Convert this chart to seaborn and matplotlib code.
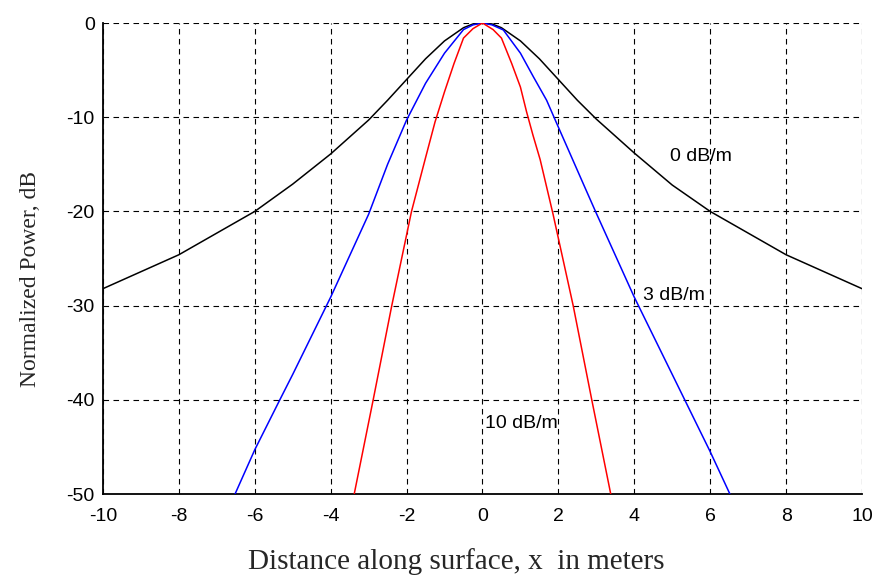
import numpy as np
import pandas as pd
import matplotlib
matplotlib.use("Agg")
import matplotlib.pyplot as plt
import seaborn as sns

# Valeurs (x en mètres, puissance en dB)
x_0db = [-10, -9, -8, -7, -6, -5, -4, -3.5, -3, -2.5, -2, -1.5, -1, -0.5, -0.25, 0,
         0.25, 0.5, 1, 1.5, 2, 2.5, 3, 3.5, 4, 5, 6, 7, 8, 9, 10]
y_0db = [-28.2, -26.4, -24.6, -22.3, -20.0, -17.1, -13.9, -12.1, -10.3, -8.2, -6.0, -3.8, -1.9, -0.5, -0.1, 0,
         -0.1, -0.5, -1.9, -3.8, -6.0, -8.2, -10.2, -12.0, -13.8, -17.2, -20.0, -22.3, -24.6, -26.4, -28.2]

x_3db = [-6.52, -6, -5.34, -5, -4, -3, -2.5, -2, -1.5, -1, -0.5, -0.25, 0,
         0.25, 0.55, 1, 1.34, 1.69, 1.95, 2.3, 2.66, 3, 4, 5, 6, 6.52]
y_3db = [-50, -45.3, -40, -37.3, -29.1, -20.3, -15.0, -10.3, -6.4, -3.2, -0.7, -0.2, 0,
         -0.2, -0.74, -3.2, -5.7, -8.2, -10.6, -13.8, -17.1, -20.2, -29.1, -37.3, -45.5, -50]

x_10db = [-3.38, -2.88, -2.39, -1.87, -1.5, -1.25, -1, -0.75, -0.5, -0.25, 0,
          0.28, 0.5, 0.77, 1, 1.16, 1.33, 1.52, 1.69, 1.86, 2.39, 2.88, 3.38]
y_10db = [-50, -40, -30, -20, -14.3, -10.5, -7.3, -4.3, -1.6, -0.6, 0,
          -0.7, -1.6, -4.3, -6.8, -9.4, -11.9, -14.5, -17.4, -20.3, -30, -40, -50]

series_names = ["0 dB/m", "3 dB/m", "10 dB/m"]
series_colors = ["#000000", "#0000ff", "#ff0000"]

x_ticks = [-10, -8, -6, -4, -2, 0, 2, 4, 6, 8, 10]
y_ticks = [-50, -40, -30, -20, -10, 0]

df = pd.concat([
    pd.DataFrame({"x": x_0db, "y": y_0db, "serie": series_names[0]}),
    pd.DataFrame({"x": x_3db, "y": y_3db, "serie": series_names[1]}),
    pd.DataFrame({"x": x_10db, "y": y_10db, "serie": series_names[2]}),
], ignore_index=True)

sns.set_style("white")
plt.rcParams['font.family'] = ['Liberation Sans', 'DejaVu Sans']
plt.rcParams['axes.unicode_minus'] = False
plt.rcParams['text.color'] = 'black'

fig = plt.figure(figsize=(8.75, 5.78), dpi=100)
ax = fig.add_axes([0.1177, 0.1453, 0.8674, 0.8149])

sns.lineplot(data=df, x="x", y="y", hue="serie", palette=dict(zip(series_names, series_colors)),
             estimator=None, sort=False, legend=False, linewidth=1.1, ax=ax, zorder=3)

ax.set_xlim(-10, 10)
ax.set_ylim(-50, 0)
ax.set_xticks(x_ticks)
ax.set_yticks(y_ticks)
ax.grid(True, color="black", linestyle=(0, (5, 4)), linewidth=0.8)

for side in ["top", "right"]:
    ax.spines[side].set_visible(False)
for side in ["left", "bottom"]:
    ax.spines[side].set_color("black")
    ax.spines[side].set_linewidth(1.3)

ax.tick_params(direction="in", length=5, width=1.2, colors="black", labelsize=14, pad=4)
ax.tick_params(axis="x", pad=10)
ax.tick_params(axis="y", pad=6)

# Étiquettes des courbes
ax.text(4.95, -14.2, "0 dB/m", fontsize=14, ha="left", va="center")
ax.text(4.23, -28.9, "3 dB/m", fontsize=14, ha="left", va="center")
ax.text(0.07, -42.5, "10 dB/m", fontsize=14, ha="left", va="center")

ax.set_xlabel("Distance along surface, x  in meters", family="Liberation Serif", fontsize=21)
ax.set_ylabel("Normalized Power, dB", family="Liberation Serif", fontsize=17)
ax.xaxis.set_label_coords(0.465, -0.144)
ax.yaxis.set_label_coords(-0.096, 0.456)
ax.xaxis.label.set_va("center")
ax.yaxis.label.set_va("center")

fig.savefig("out.png", dpi=100)
